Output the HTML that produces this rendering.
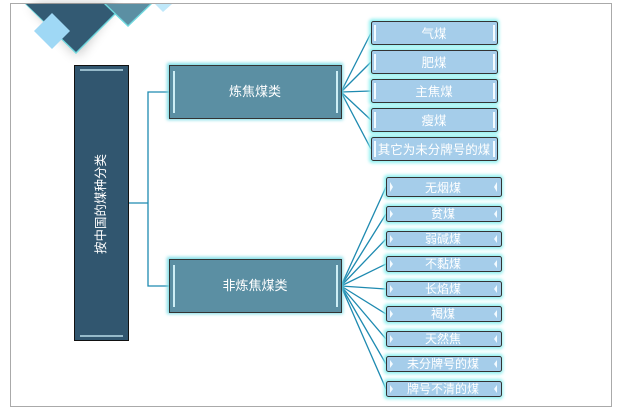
<!DOCTYPE html>
<html><head><meta charset="utf-8"><style>
html,body{margin:0;padding:0;background:#fff;}
svg{display:block;}
text{font-family:"Liberation Sans","Noto Sans CJK SC",sans-serif;fill:#fff;}
</style></head><body>
<svg width="618" height="410" viewBox="0 0 618 410" xmlns="http://www.w3.org/2000/svg">
<defs>
<filter id="sh" x="-50%" y="-50%" width="200%" height="200%"><feGaussianBlur stdDeviation="6"/></filter>
<filter id="gl" x="-20%" y="-50%" width="140%" height="200%"><feGaussianBlur stdDeviation="1.5"/></filter>
</defs>
<rect x="10.5" y="3.5" width="601" height="403" fill="#fff" stroke="#aaa" stroke-width="1"/>
<!-- decoration -->
<g>
<polygon points="30,4 115,4 78,56" fill="#000" opacity="0.25" filter="url(#sh)"/>
<polygon points="25,4 126,4 76,54" fill="#6fd8de"/>
<polygon points="26,4 124,4 76,52" fill="#335a73"/>
<polygon points="104,4 152,4 128,27" fill="#6fd8de"/>
<polygon points="106,4 150,4 128,25" fill="#5b8fa3"/>
<polygon points="52,13 70,31 52,49 34,31" fill="#9fd8f5"/>
<polygon points="155,4 172,4 163,12" fill="#bfe8fa"/>
</g>
<!-- connectors -->
<g stroke="#1e8ab0" stroke-width="1.3" fill="none">
<polyline points="128,203 148,203"/>
<polyline points="169,92 148,92 148,286 169,286"/>
<line x1="341" y1="92" x2="371" y2="33"/>
<line x1="341" y1="92" x2="371" y2="62"/>
<line x1="341" y1="92" x2="371" y2="91"/>
<line x1="341" y1="92" x2="371" y2="120"/>
<line x1="341" y1="92" x2="371" y2="149"/>
<line x1="341" y1="286" x2="386" y2="187"/>
<line x1="341" y1="286" x2="386" y2="214"/>
<line x1="341" y1="286" x2="386" y2="239"/>
<line x1="341" y1="286" x2="386" y2="264"/>
<line x1="341" y1="286" x2="386" y2="289"/>
<line x1="341" y1="286" x2="386" y2="314"/>
<line x1="341" y1="286" x2="386" y2="339"/>
<line x1="341" y1="286" x2="386" y2="364"/>
<line x1="341" y1="286" x2="386" y2="389"/>
</g>
<!-- root -->
<rect x="74.5" y="65.5" width="54" height="275" fill="#31566f" stroke="#111" stroke-width="1"/>
<line x1="80" y1="70" x2="123" y2="70" stroke="#b8dbe8" stroke-width="1.5"/>
<line x1="80" y1="336" x2="123" y2="336" stroke="#b8dbe8" stroke-width="1.5"/>
<text x="0" y="0" font-size="12.5" text-anchor="middle" transform="translate(105,204) rotate(-90)">按中国的煤种分类</text>
<!-- children -->
<g>
<rect x="167" y="63" width="176" height="57" fill="#7fdde6" filter="url(#gl)"/>
<rect x="169.5" y="65.5" width="172" height="53" fill="#5b8fa3" stroke="#333" stroke-width="1"/>
<line x1="174" y1="71" x2="174" y2="113" stroke="#cdeef5" stroke-width="2"/>
<line x1="337" y1="71" x2="337" y2="113" stroke="#cdeef5" stroke-width="2"/>
<text x="255" y="96" font-size="13" text-anchor="middle">炼焦煤类</text>
<rect x="167" y="257" width="176" height="57" fill="#7fdde6" filter="url(#gl)"/>
<rect x="169.5" y="259.5" width="172" height="53" fill="#5b8fa3" stroke="#333" stroke-width="1"/>
<line x1="174" y1="265" x2="174" y2="307" stroke="#cdeef5" stroke-width="2"/>
<line x1="337" y1="265" x2="337" y2="307" stroke="#cdeef5" stroke-width="2"/>
<text x="255" y="290" font-size="13" text-anchor="middle">非炼焦煤类</text>
</g>
<!-- top leaves -->
<g font-size="12.5">
<g>
<rect x="369" y="19" width="130" height="28" rx="3" fill="#8ef0f0" filter="url(#gl)"/>
<rect x="371.5" y="21.5" width="126" height="23" rx="2" fill="#a5cdea" stroke="#333"/>
<text x="434" y="38" text-anchor="middle">气煤</text>
</g>
<g>
<rect x="369" y="48" width="130" height="28" rx="3" fill="#8ef0f0" filter="url(#gl)"/>
<rect x="371.5" y="50.5" width="126" height="23" rx="2" fill="#a5cdea" stroke="#333"/>
<text x="434" y="67" text-anchor="middle">肥煤</text>
</g>
<g>
<rect x="369" y="77" width="130" height="28" rx="3" fill="#8ef0f0" filter="url(#gl)"/>
<rect x="371.5" y="79.5" width="126" height="23" rx="2" fill="#a5cdea" stroke="#333"/>
<text x="434" y="96" text-anchor="middle">主焦煤</text>
</g>
<g>
<rect x="369" y="106" width="130" height="28" rx="3" fill="#8ef0f0" filter="url(#gl)"/>
<rect x="371.5" y="108.5" width="126" height="23" rx="2" fill="#a5cdea" stroke="#333"/>
<text x="434" y="125" text-anchor="middle">瘦煤</text>
</g>
<g>
<rect x="369" y="135" width="130" height="28" rx="3" fill="#8ef0f0" filter="url(#gl)"/>
<rect x="371.5" y="137.5" width="126" height="23" rx="2" fill="#a5cdea" stroke="#333"/>
<text x="434" y="154" text-anchor="middle">其它为未分牌号的煤</text>
</g>
<g stroke="#f4fbff" stroke-width="2">
<line x1="375" y1="25" x2="375" y2="41"/><line x1="494" y1="25" x2="494" y2="41"/>
<line x1="375" y1="54" x2="375" y2="70"/><line x1="494" y1="54" x2="494" y2="70"/>
<line x1="375" y1="83" x2="375" y2="99"/><line x1="494" y1="83" x2="494" y2="99"/>
<line x1="375" y1="112" x2="375" y2="128"/><line x1="494" y1="112" x2="494" y2="128"/>
<line x1="375" y1="141" x2="375" y2="157"/><line x1="494" y1="141" x2="494" y2="157"/>
</g>
</g>
<!-- bottom leaves -->
<g font-size="12">
<rect x="384" y="175" width="119" height="24" rx="3" fill="#8ef0f0" filter="url(#gl)"/>
<rect x="386.5" y="177.5" width="115" height="19" rx="2" fill="#a5cdea" stroke="#333"/>
<text x="443" y="192" text-anchor="middle">无烟煤</text>
</g>
<g font-size="12" id="bl">
<rect x="384" y="204" width="119" height="20" rx="3" fill="#8ef0f0" filter="url(#gl)"/>
<rect x="386.5" y="206.5" width="115" height="15" rx="2" fill="#a5cdea" stroke="#333"/>
<text x="443" y="218" text-anchor="middle">贫煤</text>
<rect x="384" y="229" width="119" height="20" rx="3" fill="#8ef0f0" filter="url(#gl)"/>
<rect x="386.5" y="231.5" width="115" height="15" rx="2" fill="#a5cdea" stroke="#333"/>
<text x="443" y="243" text-anchor="middle">弱碱煤</text>
<rect x="384" y="254" width="119" height="20" rx="3" fill="#8ef0f0" filter="url(#gl)"/>
<rect x="386.5" y="256.5" width="115" height="15" rx="2" fill="#a5cdea" stroke="#333"/>
<text x="443" y="268" text-anchor="middle">不黏煤</text>
<rect x="384" y="279" width="119" height="20" rx="3" fill="#8ef0f0" filter="url(#gl)"/>
<rect x="386.5" y="281.5" width="115" height="15" rx="2" fill="#a5cdea" stroke="#333"/>
<text x="443" y="293" text-anchor="middle">长焰煤</text>
<rect x="384" y="304" width="119" height="20" rx="3" fill="#8ef0f0" filter="url(#gl)"/>
<rect x="386.5" y="306.5" width="115" height="15" rx="2" fill="#a5cdea" stroke="#333"/>
<text x="443" y="318" text-anchor="middle">褐煤</text>
<rect x="384" y="329" width="119" height="20" rx="3" fill="#8ef0f0" filter="url(#gl)"/>
<rect x="386.5" y="331.5" width="115" height="15" rx="2" fill="#a5cdea" stroke="#333"/>
<text x="443" y="343" text-anchor="middle">天然焦</text>
<rect x="384" y="354" width="119" height="20" rx="3" fill="#8ef0f0" filter="url(#gl)"/>
<rect x="386.5" y="356.5" width="115" height="15" rx="2" fill="#a5cdea" stroke="#333"/>
<text x="443" y="368" text-anchor="middle">未分牌号的煤</text>
<rect x="384" y="379" width="119" height="20" rx="3" fill="#8ef0f0" filter="url(#gl)"/>
<rect x="386.5" y="381.5" width="115" height="15" rx="2" fill="#a5cdea" stroke="#333"/>
<text x="443" y="393" text-anchor="middle">牌号不清的煤</text>
</g>
<g fill="#f4fbff">
<polygon points="390,182 393,187 390,192"/><polygon points="497,182 494,187 497,192"/>
<polygon points="390,210 393,214 390,218"/><polygon points="497,210 494,214 497,218"/>
<polygon points="390,235 393,239 390,243"/><polygon points="497,235 494,239 497,243"/>
<polygon points="390,260 393,264 390,268"/><polygon points="497,260 494,264 497,268"/>
<polygon points="390,285 393,289 390,293"/><polygon points="497,285 494,289 497,293"/>
<polygon points="390,310 393,314 390,318"/><polygon points="497,310 494,314 497,318"/>
<polygon points="390,335 393,339 390,343"/><polygon points="497,335 494,339 497,343"/>
<polygon points="390,360 393,364 390,368"/><polygon points="497,360 494,364 497,368"/>
<polygon points="390,385 393,389 390,393"/><polygon points="497,385 494,389 497,393"/>
</g>
</svg>
</body></html>
